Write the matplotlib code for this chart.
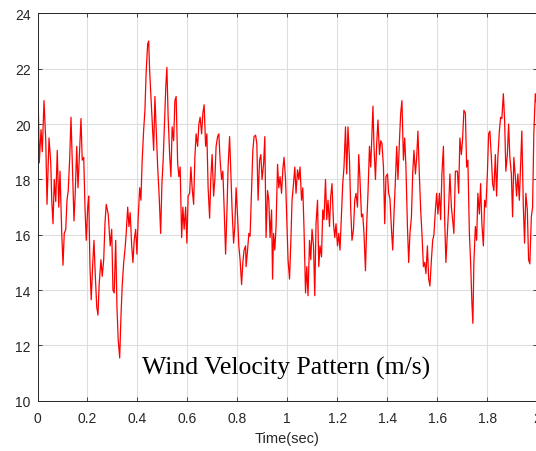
import matplotlib
matplotlib.use("Agg")
import matplotlib.pyplot as plt

# time (s) and wind speed (m/s)
time_s = [
    0.0, 0.003, 0.007, 0.014, 0.019, 0.026, 0.033, 0.038, 0.046, 0.053,
    0.057, 0.062, 0.067, 0.073, 0.079, 0.085, 0.090, 0.097, 0.102, 0.107,
    0.113, 0.118, 0.123, 0.129, 0.134, 0.139, 0.146, 0.151, 0.157, 0.162,
    0.169, 0.174, 0.179, 0.185, 0.190, 0.195, 0.201, 0.205, 0.210, 0.215,
    0.221, 0.226, 0.231, 0.237, 0.242, 0.247, 0.254, 0.259, 0.265, 0.270,
    0.275,
    0.283, 0.291, 0.297, 0.302, 0.307, 0.313, 0.318, 0.323, 0.329, 0.334,
    0.339, 0.345, 0.350, 0.355, 0.361, 0.366, 0.371, 0.377, 0.382, 0.387,
    0.393, 0.398, 0.403, 0.409, 0.414, 0.419, 0.425, 0.430, 0.435, 0.441,
    0.445, 0.449, 0.454, 0.459, 0.465, 0.470, 0.475, 0.481, 0.487, 0.493,
    0.498, 0.503, 0.509, 0.514, 0.518, 0.523, 0.529, 0.534, 0.539, 0.545,
    0.550, 0.555,
    0.561, 0.566, 0.571, 0.577, 0.582, 0.587, 0.593, 0.598, 0.603, 0.609,
    0.614, 0.619, 0.625, 0.630, 0.635, 0.641, 0.646, 0.651, 0.657, 0.662,
    0.667, 0.673, 0.678, 0.683, 0.689, 0.694, 0.699, 0.705, 0.710, 0.715,
    0.721, 0.726, 0.731, 0.737, 0.742, 0.747, 0.753, 0.758, 0.763, 0.769,
    0.774, 0.779, 0.785, 0.790, 0.795, 0.801, 0.806, 0.811, 0.817, 0.822,
    0.827, 0.833,
    0.835, 0.841, 0.846, 0.851, 0.857, 0.862, 0.867, 0.873, 0.878, 0.883,
    0.889, 0.894, 0.899, 0.905, 0.910, 0.915, 0.921, 0.926, 0.931, 0.937,
    0.941, 0.945, 0.950, 0.955, 0.961, 0.966, 0.971, 0.977, 0.982, 0.987,
    0.993, 0.998, 1.003, 1.009, 1.014, 1.019, 1.025, 1.030, 1.035, 1.041,
    1.046, 1.051, 1.057, 1.062, 1.067, 1.073, 1.078, 1.083, 1.089, 1.094,
    1.099, 1.105, 1.110, 1.115,
    1.121, 1.126, 1.131, 1.137, 1.142, 1.147, 1.153, 1.158, 1.163, 1.169,
    1.174, 1.179, 1.185, 1.190, 1.195, 1.201, 1.206, 1.211, 1.217, 1.222,
    1.227, 1.233, 1.238, 1.243, 1.249, 1.254, 1.259, 1.265, 1.270, 1.275,
    1.281, 1.286, 1.291, 1.297, 1.302, 1.307, 1.313, 1.318, 1.323, 1.329,
    1.334, 1.339, 1.343, 1.347, 1.353, 1.358, 1.363, 1.369, 1.374, 1.379,
    1.385, 1.390, 1.395,
    1.401, 1.406, 1.411, 1.417, 1.422, 1.427, 1.433, 1.438, 1.443, 1.449,
    1.454, 1.459, 1.465, 1.470, 1.475, 1.481, 1.486, 1.491, 1.497, 1.502,
    1.507, 1.513, 1.518, 1.523, 1.529, 1.534, 1.539, 1.545, 1.550, 1.555,
    1.561, 1.566, 1.571, 1.577, 1.582, 1.587, 1.593, 1.598, 1.603, 1.609,
    1.614, 1.619, 1.625, 1.630, 1.635, 1.641, 1.646, 1.651, 1.657, 1.662,
    1.667, 1.673,
    1.681, 1.686, 1.691, 1.697, 1.702, 1.707, 1.713, 1.718, 1.723, 1.729,
    1.734, 1.739, 1.743, 1.747, 1.753, 1.758, 1.763, 1.769, 1.774, 1.779,
    1.785, 1.790, 1.795, 1.801, 1.806, 1.811, 1.817, 1.822, 1.827, 1.833,
    1.838, 1.843, 1.849, 1.854, 1.859, 1.865, 1.870, 1.875, 1.881, 1.886,
    1.891, 1.897, 1.902, 1.907, 1.913, 1.918, 1.923, 1.929, 1.934, 1.939,
    1.945, 1.950, 1.955, 1.961, 1.966, 1.971, 1.977, 1.982, 1.987, 1.993,
    2.0,
]
wind_ms = [
    19.9, 20.7, 18.6, 19.8, 19.0, 20.85, 19.4, 17.1, 19.5, 18.6,
    17.25, 16.4, 18.0, 17.2, 19.05, 17.0, 18.3, 16.05, 14.9, 16.05,
    16.2, 17.25, 17.6, 18.8, 20.25, 18.7, 16.5, 17.5, 19.2, 17.7,
    19.2, 20.2, 18.7, 18.8, 17.0, 15.8, 17.0, 17.4, 14.85, 13.65,
    14.95, 15.8, 14.6, 13.4, 13.1, 14.25, 15.1, 14.5, 15.1, 16.4,
    17.1,
    16.75, 15.6, 16.2, 14.0, 13.9, 15.8, 13.4, 12.2, 11.55, 13.05,
    14.15, 15.0, 15.45, 16.05, 17.0, 16.3, 16.8, 15.6, 15.0, 15.8,
    16.2, 15.3, 16.6, 17.7, 17.25, 18.7, 19.8, 20.5, 21.9, 22.9,
    23.0, 21.9, 21.0, 20.1, 19.05, 21.0, 19.8, 18.45, 17.4, 16.05,
    17.85, 18.7, 20.25, 21.45, 22.05, 20.25, 18.9, 18.1, 19.9, 19.4,
    20.85, 21.0,
    18.6, 18.1, 18.45, 15.9, 17.0, 16.2, 17.0, 15.7, 17.4, 17.5,
    18.45, 17.7, 17.1, 18.8, 19.65, 19.2, 20.0, 20.25, 19.65, 20.4,
    20.7, 19.2, 19.65, 17.7, 16.6, 18.1, 18.9, 17.4, 18.0, 19.2,
    19.55, 19.65, 18.7, 18.0, 18.3, 17.0, 15.3, 16.75, 18.45, 19.55,
    18.2, 16.9, 15.7, 16.3, 17.7, 16.65, 15.6, 15.1, 14.2, 15.0,
    15.45, 15.6,
    14.85, 15.45, 16.05, 15.95, 17.7, 19.05, 19.55, 19.6, 19.3, 17.25,
    18.7, 18.9, 18.0, 18.55, 19.55, 15.9, 17.6, 17.25, 15.9, 16.9,
    14.4, 16.05, 15.45, 16.3, 18.55, 17.7, 18.1, 17.5, 18.35, 18.8,
    18.0, 16.5, 15.1, 14.4, 15.7, 17.25, 17.85, 18.45, 17.5, 18.35,
    18.0, 18.45, 17.25, 17.7, 16.2, 13.9, 14.85, 13.8, 15.8, 15.1,
    16.2, 15.6, 13.8, 16.4,
    17.25, 14.85, 15.6, 15.2, 16.9, 16.55, 18.0, 16.55, 17.25, 16.3,
    17.4, 17.85, 16.4, 15.9, 16.4, 15.6, 16.05, 15.45, 16.75, 17.85,
    18.45, 19.9, 18.2, 19.9, 18.7, 16.9, 15.8, 16.2, 17.25, 17.5,
    17.0, 18.9, 18.0, 16.65, 16.75, 16.05, 14.7, 16.4, 17.5, 19.2,
    18.45, 19.65, 20.65, 19.2, 18.0, 19.3, 20.15, 18.9, 19.4, 19.3,
    18.45, 16.4, 18.1,
    18.2, 17.5, 17.3, 16.2, 15.45, 16.75, 18.0, 19.2, 18.0, 19.4,
    20.4, 20.85, 18.7, 19.5, 18.45, 16.3, 15.0, 16.05, 16.65, 18.2,
    19.05, 18.2, 18.8, 19.75, 18.1, 16.9, 16.05, 14.85, 15.0, 14.6,
    15.6, 14.4, 14.15, 15.1, 15.8, 16.0, 16.9, 17.5, 16.75, 17.5,
    16.55, 18.2, 19.2, 16.55, 15.0, 16.05, 17.0, 18.2, 17.0, 16.55,
    16.05, 18.3,
    18.3, 17.5, 19.5, 18.9, 19.5, 20.5, 20.4, 18.45, 18.7, 16.05,
    15.0, 13.55, 12.8, 15.0, 16.3, 15.8, 17.5, 16.75, 17.85, 16.4,
    15.6, 17.25, 17.0, 18.2, 19.65, 19.75, 18.8, 17.85, 17.6, 18.9,
    17.4, 18.8, 19.75, 20.25, 20.2, 21.1, 20.15, 18.3, 18.9, 20.0,
    18.8, 18.2, 16.65, 18.8, 18.1, 17.4, 18.2, 17.25, 18.55, 19.75,
    17.0, 15.7, 17.5, 16.9, 15.1, 14.95, 16.65, 17.0, 19.65, 21.1,
    20.6,
]

x_ticks = [0, 0.2, 0.4, 0.6, 0.8, 1, 1.2, 1.4, 1.6, 1.8, 2]
x_tick_labels = ["0", "0.2", "0.4", "0.6", "0.8", "1", "1.2", "1.4", "1.6", "1.8", "2"]
y_ticks = [10, 12, 14, 16, 18, 20, 22, 24]

axis_gray = "#262626"
plt.rcParams["font.family"] = ["Liberation Sans", "DejaVu Sans"]

fig = plt.figure(figsize=(5.36, 4.52), dpi=100)
ax = fig.add_axes([0.07, 0.111, 0.932, 0.857])

ax.plot(time_s, wind_ms, color="red", linewidth=0.9)

ax.set_xlim(0, 2)
ax.set_ylim(10, 24)
ax.set_xticks(x_ticks)
ax.set_xticklabels(x_tick_labels)
ax.set_yticks(y_ticks)

ax.grid(True, color="#dedede", linewidth=0.8)
ax.set_axisbelow(True)
ax.tick_params(direction="in", length=3, width=0.6, colors=axis_gray,
               labelsize=10, top=True, right=True)
ax.tick_params(axis="x", pad=7)
ax.tick_params(axis="y", pad=5)
for side in ax.spines.values():
    side.set_color(axis_gray)
    side.set_linewidth(0.7)

ax.set_xlabel("Time(sec)", fontsize=10.5, color=axis_gray, labelpad=5)

ax.text(0.4975, 0.086, "Wind Velocity Pattern (m/s)", transform=ax.transAxes,
        ha="center", va="center", fontsize=18.5, family="Liberation Serif",
        color="black")

fig.savefig("out.png", dpi=100)
